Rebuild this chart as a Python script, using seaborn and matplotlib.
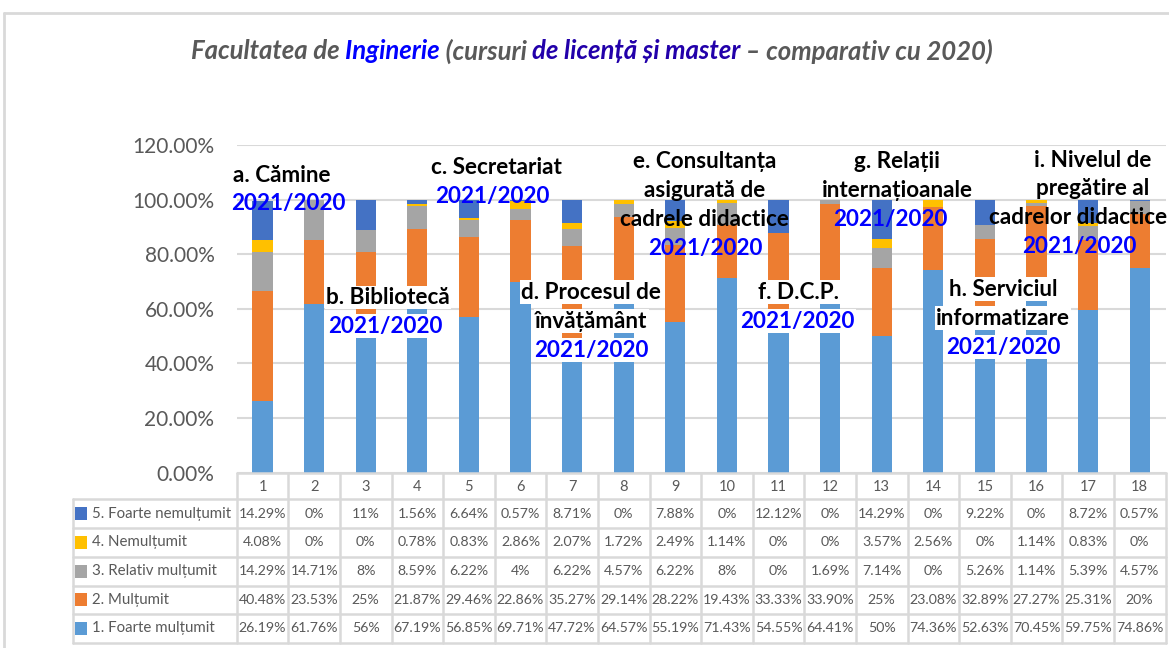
import pandas as pd
import matplotlib
matplotlib.use("Agg")
import matplotlib.pyplot as plt
import seaborn as sns
from matplotlib.patches import Rectangle
from matplotlib.ticker import FuncFormatter

# ---- data (percent) ----
categories = list(range(1, 19))
levels = ["5. Foarte nemulțumit", "4. Nemulțumit", "3. Relativ mulțumit",
          "2. Mulțumit", "1. Foarte mulțumit"]
foarte_nemultumit = [14.29, 0, 11, 1.56, 6.64, 0.57, 8.71, 0, 7.88, 0, 12.12, 0, 14.29, 0, 9.22, 0, 8.72, 0.57]
nemultumit = [4.08, 0, 0, 0.78, 0.83, 2.86, 2.07, 1.72, 2.49, 1.14, 0, 0, 3.57, 2.56, 0, 1.14, 0.83, 0]
relativ_multumit = [14.29, 14.71, 8, 8.59, 6.22, 4, 6.22, 4.57, 6.22, 8, 0, 1.69, 7.14, 0, 5.26, 1.14, 5.39, 4.57]
multumit = [40.48, 23.53, 25, 21.87, 29.46, 22.86, 35.27, 29.14, 28.22, 19.43, 33.33, 33.90, 25, 23.08, 32.89, 27.27, 25.31, 20]
foarte_multumit = [26.19, 61.76, 56, 67.19, 56.85, 69.71, 47.72, 64.57, 55.19, 71.43, 54.55, 64.41, 50, 74.36, 52.63, 70.45, 59.75, 74.86]
series = [foarte_nemultumit, nemultumit, relativ_multumit, multumit, foarte_multumit]
colors = ["#4472C4", "#FFC000", "#A5A5A5", "#ED7D31", "#5B9BD5"]

# annotations: black lines, x (category units), y of first line, x of year line, white box
annotations = [
    (["a. Cămine"], 1.38, 1.090, 1.50, False),
    (["b. Bibliotecă"], 3.43, 0.642, 3.39, True),
    (["c. Secretariat"], 5.54, 1.116, 5.45, False),
    (["d. Procesul de", "învățământ"], 7.37, 0.661, 7.37, True),
    (["e. Consultanța", "asigurată de", "cadrele didactice"], 9.56, 1.138, 9.58, False),
    (["f. D.C.P."], 11.38, 0.661, 11.36, True),
    (["g. Relații", "internațioanale"], 13.30, 1.138, 13.16, False),
    (["h. Serviciul", "informatizare"], 15.35, 0.672, 15.35, True),
    (["i. Nivelul de", "pregătire al", "cadrelor didactice"], 17.09, 1.145, 16.84, False),
]
year_label = "2021/2020"

title_parts = [
    ("Facultatea de ", "#595959"),
    ("Inginerie", "#0000FF"),
    (" (cursuri ", "#595959"),
    ("de licență și master", "#2200AA"),
    (" – comparativ cu 2020)", "#595959"),
]

sns.set_theme(style="white")
FONT = ["Lato", "DejaVu Sans"]
plt.rcParams["font.family"] = FONT

W, H = 1169, 648
fig = plt.figure(figsize=(W / 100, H / 100), dpi=100)
fig.patch.set_facecolor("white")

AX_L, AX_R = 236.7, 1165.5
AX_T, AX_B = 145.0, 472.7
COL = (AX_R - AX_L) / 18
ax = fig.add_axes([AX_L / W, 1 - AX_B / H, (AX_R - AX_L) / W, (AX_B - AX_T) / H])

rows = []
for lvl, vals in zip(levels, series):
    for c, v in zip(categories, vals):
        rows.append({"cat": c, "val": v / 100, "level": lvl})
df = pd.DataFrame(rows)

sns.histplot(data=df, x="cat", weights="val", hue="level", hue_order=levels,
             multiple="stack", discrete=True, shrink=0.39,
             palette=dict(zip(levels, colors)), alpha=1, linewidth=0,
             legend=False, ax=ax, zorder=2)

ax.set_xlim(0.5, 18.5)
ax.set_ylim(0, 1.2)
ax.set_yticks([0, 0.2, 0.4, 0.6, 0.8, 1.0, 1.2])
ax.yaxis.set_major_formatter(FuncFormatter(lambda v, p: f"{v * 100:.2f}%"))
ax.tick_params(axis="y", length=0, pad=16, labelsize=15, labelcolor="#595959")
ax.set_xticks([])
ax.set_xlabel("")
ax.set_ylabel("")
for s in ax.spines.values():
    s.set_visible(False)
ax.grid(axis="y", color="#D9D9D9", linewidth=1.5, zorder=0)
ax.set_axisbelow(True)
ax.patch.set_alpha(0)

# category annotations
LS = 0.106
ANN_FS = 16.2
right_px = (1167 - AX_L) / COL + 0.5
for lines, x, y0, xb, box in annotations:
    bb = dict(facecolor="white", edgecolor="none", pad=1) if box else None
    for k, line in enumerate(lines):
        xx, ha = x, "center"
        if x > 17:  # the last label runs to the chart's right border
            if k == len(lines) - 1:
                xx, ha = right_px, "right"
        ax.text(xx, y0 - k * LS, line, ha=ha, va="center", fontsize=ANN_FS,
                fontweight="bold", color="black", bbox=bb, zorder=5)
    ax.text(xb, y0 - len(lines) * LS, year_label, ha="center", va="center",
            fontsize=ANN_FS, fontweight="bold", color="#0000FF", bbox=bb, zorder=5)

# data table below the axis
TBL_L = 73.3
xmin = 0.5 - (AX_L - TBL_L) / COL
tax = fig.add_axes([TBL_L / W, 0, (AX_R - TBL_L) / W, (H - AX_B) / H])
tax.set_xlim(xmin, 18.5)
tax.set_ylim(H, AX_B)
tax.axis("off")

grid_c = "#D9D9D9"
head_bot = 499.3
row_lines = [528.3, 556.7, 585.7, 614.0, 642.7]
tax.plot([0.5, 18.5], [AX_B, AX_B], color=grid_c, lw=1.8, clip_on=False)
for yl in [head_bot] + row_lines:
    tax.plot([xmin, 18.5], [yl, yl], color=grid_c, lw=1.8, clip_on=False)
tax.plot([xmin, xmin], [head_bot, row_lines[-1]], color=grid_c, lw=1.8, clip_on=False)
for i in range(19):
    tax.plot([0.5 + i, 0.5 + i], [AX_B, row_lines[-1]], color=grid_c, lw=1.8, clip_on=False)

for c in categories:
    tax.text(c, (AX_B + head_bot) / 2 + 1, str(c), ha="center", va="center",
             fontsize=10.5, color="#595959")


def fmt(v):
    s = f"{v:.2f}"
    if s.endswith(".00"):
        s = s[:-3]
    return s + "%"


tops = [head_bot] + row_lines[:-1]
for r, (lvl, vals, col) in enumerate(zip(levels, series, colors)):
    yc = (tops[r] + row_lines[r]) / 2
    sq = 13 / COL
    tax.add_patch(Rectangle((xmin + 1.7 / COL, yc - 6.5), sq * 0.95, 13,
                            facecolor=col, edgecolor="none"))
    tax.text(xmin + 19 / COL, yc, lvl, ha="left", va="center", fontsize=10.8,
             color="#595959")
    for c, v in zip(categories, vals):
        tax.text(c, yc, fmt(v), ha="center", va="center", fontsize=10.2,
                 color="#595959")

# outer chart border
fig.add_artist(plt.Line2D([4 / W, 1], [1 - 13 / H, 1 - 13 / H], color=grid_c, lw=2))
fig.add_artist(plt.Line2D([4 / W, 4 / W], [0, 1 - 13 / H], color=grid_c, lw=2))

# multi-coloured title
fig.canvas.draw()
rend = fig.canvas.get_renderer()
pieces = []
for s, c in title_parts:
    t = fig.text(0, 1 - 51 / H, s, color=c, fontsize=18.5, fontweight="bold",
                 fontstyle="italic", va="center", ha="left")
    pieces.append(t)
widths = [t.get_window_extent(rend).width for t in pieces]
x0 = 592 - sum(widths) / 2
for t, w in zip(pieces, widths):
    t.set_x(x0 / W)
    x0 += w

fig.savefig("out.png", dpi=100)
